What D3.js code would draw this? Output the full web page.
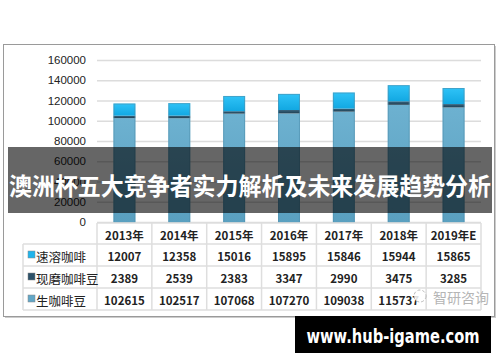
<!DOCTYPE html>
<html>
<head>
<meta charset="utf-8">
<script src="https://cdn.jsdelivr.net/npm/d3@7"></script>
<style>
  body { margin: 0; background: #fff; }
  svg { display: block; font-family: "Noto Sans CJK SC", "Noto Sans", sans-serif; }
</style>
</head>
<body>
<svg width="500" height="362"></svg>
<script>
const svg = d3.select("svg")

// data
const years = ["2013年", "2014年", "2015年", "2016年", "2017年", "2018年", "2019年E"]
const instant = [12007, 12358, 15016, 15895, 15846, 15944, 15865]   // 速溶咖啡
const ground = [2389, 2539, 2383, 3347, 2990, 3475, 3285]           // 现磨咖啡豆
const green = [102615, 102517, 107068, 107270, 109038, 115737, 113200] // 生咖啡豆
const seriesNames = ["速溶咖啡", "现磨咖啡豆", "生咖啡豆"]
const yTicks = [0, 20000, 40000, 60000, 80000, 100000, 120000, 140000, 160000]
const title = "澳洲杯五大竞争者实力解析及未来发展趋势分析"

const colors = { "速溶咖啡": "#1fb4ec", "现磨咖啡豆": "#2c5169", "生咖啡豆": "#62a7c7" }

const rows = years.map((y, i) => ({ year: y, "速溶咖啡": instant[i], "现磨咖啡豆": ground[i], "生咖啡豆": green[i] }))

const plotLeft = 97, plotRight = 481
const x = d3.scaleBand().domain(years).range([plotLeft, plotRight]).paddingInner(0.6).paddingOuter(0.3)
const col = d3.scaleBand().domain(years).range([plotLeft, plotRight])
const y = d3.scaleLinear().domain([0, 160000]).range([222, 60])

// outer chart frame
svg.append("rect").attr("x", 5).attr("y", 46).attr("width", 491).attr("height", 272).attr("fill", "#ccc")
svg.append("rect").attr("x", 3.5).attr("y", 44.5).attr("width", 491).attr("height", 272)
    .attr("fill", "#fff").attr("stroke", "#9a9a9a")

// gradients for the bars
const defs = svg.append("defs")
const grads = {
    "速溶咖啡": ["#2fc3f7", "#12a8e2"],
    "现磨咖啡豆": ["#3a6680", "#1f3f52"],
    "生咖啡豆": ["#6db1d0", "#5aa0c0"]
}
Object.keys(grads).forEach((k, i) => {
    const g = defs.append("linearGradient").attr("id", "g" + i).attr("x1", 0).attr("x2", 0).attr("y1", 0).attr("y2", 1)
    g.append("stop").attr("offset", "0%").attr("stop-color", grads[k][0])
    g.append("stop").attr("offset", "100%").attr("stop-color", grads[k][1])
})

// y axis with gridlines
const yAxis = svg.append("g")
    .attr("transform", `translate(${plotLeft},0)`)
    .call(d3.axisLeft(y).tickValues(yTicks).tickSize(-(plotRight - plotLeft)).tickPadding(11).tickFormat(d3.format("d")))
yAxis.select(".domain").remove()
yAxis.selectAll(".tick line").attr("stroke", "#dcdcdc").attr("stroke-width", 1.3)
yAxis.selectAll(".tick text").attr("fill", "#222").attr("font-size", 11.5)
    .attr("font-family", "'Liberation Sans', Arial, sans-serif")

// stacked bars
const stack = d3.stack().keys(["生咖啡豆", "现磨咖啡豆", "速溶咖啡"])(rows)
svg.append("g").selectAll("g")
    .data(stack)
    .join("g")
    .attr("fill", d => "url(#g" + seriesNames.indexOf(d.key) + ")")
    .selectAll("rect")
    .data(d => d)
    .join("rect")
    .attr("x", d => x(d.data.year))
    .attr("width", x.bandwidth())
    .attr("y", d => y(d[1]))
    .attr("height", d => y(d[0]) - y(d[1]))
svg.append("g").selectAll("rect")
    .data(rows)
    .join("rect")
    .attr("x", d => x(d.year) + 0.5)
    .attr("width", x.bandwidth() - 1)
    .attr("y", d => y(d["生咖啡豆"] + d["现磨咖啡豆"] + d["速溶咖啡"]) + 0.5)
    .attr("height", d => 222 - y(d["生咖啡豆"] + d["现磨咖啡豆"] + d["速溶咖啡"]))
    .attr("fill", "none").attr("stroke", "#4f8fae").attr("stroke-opacity", 0.6)

// data table
const tableTop = 223, headH = 21, rowH = 22, labelLeft = 23
const table = svg.append("g")
table.append("rect").attr("x", plotLeft).attr("y", tableTop).attr("width", plotRight - plotLeft).attr("height", headH).attr("fill", "#fff")
table.append("rect").attr("x", labelLeft).attr("y", tableTop + headH).attr("width", plotRight - labelLeft).attr("height", rowH * 3).attr("fill", "#fff")

const lineCol = "#dedede"
// horizontal lines
table.append("line").attr("x1", plotLeft).attr("x2", plotRight).attr("y1", tableTop).attr("y2", tableTop).attr("stroke", lineCol).attr("stroke-width", 1.5)
d3.range(4).forEach(i => {
    const yy = tableTop + headH + i * rowH
    table.append("line").attr("x1", labelLeft).attr("x2", plotRight).attr("y1", yy).attr("y2", yy).attr("stroke", lineCol).attr("stroke-width", 1.5)
})
// vertical lines
table.append("line").attr("x1", labelLeft).attr("x2", labelLeft).attr("y1", tableTop + headH).attr("y2", tableTop + headH + rowH * 3).attr("stroke", lineCol).attr("stroke-width", 1.5)
years.concat(["end"]).forEach((yr, i) => {
    const xx = plotLeft + i * col.step()
    table.append("line").attr("x1", xx).attr("x2", xx).attr("y1", tableTop).attr("y2", tableTop + headH + rowH * 3).attr("stroke", lineCol).attr("stroke-width", 1.5)
})

// header
table.selectAll(".yr")
    .data(years)
    .join("text")
    .attr("x", d => col(d) + col.bandwidth() / 2)
    .attr("y", tableTop + headH / 2 + 1)
    .attr("text-anchor", "middle").attr("dominant-baseline", "central")
    .attr("font-size", 11.5).attr("font-weight", 600).attr("fill", "#222")
    .text(d => d)

// row labels with legend keys
const tableSeries = ["速溶咖啡", "现磨咖啡豆", "生咖啡豆"]
const tableValues = [instant, ground, green]
tableSeries.forEach((s, r) => {
    const cy = tableTop + headH + r * rowH + rowH / 2
    table.append("rect").attr("x", labelLeft + 5).attr("y", cy - 4).attr("width", 7).attr("height", 7)
        .attr("fill", colors[s]).attr("stroke", "#888").attr("stroke-width", 0.5)
    table.append("text").attr("x", labelLeft + 13).attr("y", cy + 1)
        .attr("dominant-baseline", "central").attr("font-size", 12.5).attr("fill", "#222")
        .text(s)
    table.append("g").selectAll("text")
        .data(tableValues[r].map((v, i) => ({ v, i })).filter(d => !(r === 2 && d.i === 6)))
        .join("text")
        .attr("x", d => col(years[d.i]) + col.bandwidth() / 2)
        .attr("y", cy + 1)
        .attr("text-anchor", "middle").attr("dominant-baseline", "central")
        .attr("font-size", 11.5).attr("font-weight", 600).attr("fill", "#222")
        .text(d => d.v)
})

// source watermark inside the table
const wm = svg.append("g")
wm.append("circle").attr("cx", 420).attr("cy", 296).attr("r", 6).attr("fill", "#fff").attr("fill-opacity", 0.85)
    .attr("stroke", "#aaa").attr("stroke-width", 0.8).attr("stroke-dasharray", "3,2")
wm.append("text").attr("x", 461).attr("y", 297).attr("text-anchor", "middle").attr("dominant-baseline", "central")
    .attr("font-size", 14).attr("fill", "#b5b5b5").text("智研咨询")

// dark title banner
svg.append("rect").attr("x", 8).attr("y", 147).attr("width", 484).attr("height", 66)
    .attr("fill", "#000").attr("fill-opacity", 0.6)
svg.append("text").attr("x", 250).attr("y", 184)
    .attr("text-anchor", "middle").attr("dominant-baseline", "central")
    .attr("font-size", 24).attr("font-weight", "bold").attr("fill", "#fff")
    .attr("textLength", 482).attr("lengthAdjust", "spacingAndGlyphs")
    .text(title)

// site label
svg.append("rect").attr("x", 295).attr("y", 316).attr("width", 196).attr("height", 37).attr("fill", "#000")
svg.append("text").attr("x", 393).attr("y", 343)
    .attr("text-anchor", "middle")
    .attr("font-size", 20).attr("font-weight", "bold").attr("fill", "#fff")
    .attr("font-family", "'DejaVu Sans', sans-serif")
    .attr("textLength", 173).attr("lengthAdjust", "spacingAndGlyphs")
    .text("www.hub-igame.com")
</script>
</body>
</html>
